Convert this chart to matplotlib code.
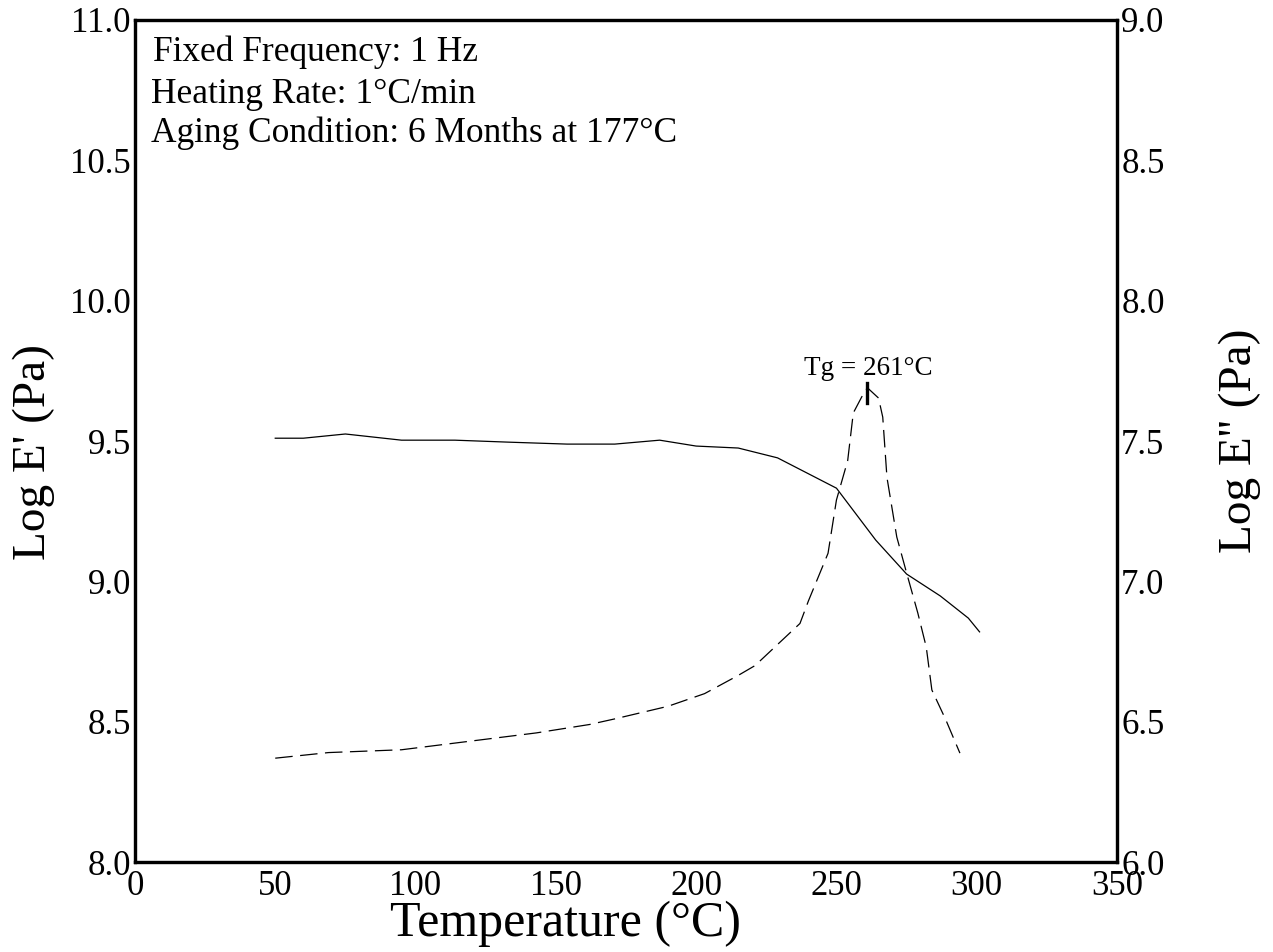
import matplotlib
matplotlib.use("Agg")
import matplotlib.pyplot as plt

plt.rcParams['font.family'] = ['Liberation Serif', 'DejaVu Serif']

# Storage modulus (solid line, left axis)
temp_storage = [50, 60, 75, 95, 114, 133, 154, 171, 187, 200, 215, 229, 250, 264, 275, 287, 297, 301]
log_storage = [9.51, 9.51, 9.525, 9.503, 9.503, 9.496, 9.489, 9.489, 9.503, 9.482, 9.475, 9.44,
               9.332, 9.147, 9.026, 8.948, 8.869, 8.82]

# Loss modulus (dashed line, right axis)
temp_loss = [50, 69, 95, 115, 143, 162, 171, 190, 203, 215, 221, 237, 240, 247, 250, 254, 256,
             259, 261, 265, 266.5, 268, 271.5, 275, 279, 282, 284, 289, 294]
log_loss = [6.37, 6.39, 6.40, 6.425, 6.46, 6.49, 6.51, 6.555, 6.60, 6.665, 6.70, 6.85, 6.93,
            7.10, 7.29, 7.43, 7.60, 7.657, 7.69, 7.653, 7.585, 7.37, 7.158, 7.03, 6.887,
            6.766, 6.613, 6.506, 6.388]

x_ticks = [0, 50, 100, 150, 200, 250, 300, 350]
left_ticks = [8.0, 8.5, 9.0, 9.5, 10.0, 10.5, 11.0]
right_ticks = [6.0, 6.5, 7.0, 7.5, 8.0, 8.5, 9.0]

tg_value = 261
tg_marker = [7.635, 7.706]

notes = ["Fixed Frequency: 1 Hz", "Heating Rate: 1\u00b0C/min", "Aging Condition: 6 Months at 177\u00b0C"]

fig = plt.figure(figsize=(12.73, 9.52), dpi=100)
ax = fig.add_axes([0.106, 0.0945, 0.7715, 0.8845])
ax2 = ax.twinx()

ax.plot(temp_storage, log_storage, color='black', lw=0.9)
ax2.plot(temp_loss, log_loss, color='black', lw=0.9, linestyle=(0, (14, 6)))
ax2.plot([tg_value, tg_value], tg_marker, color='black', lw=2.4)
ax2.text(tg_value + 0.5, 7.735, "Tg = %d\u00b0C" % tg_value, ha='center', va='baseline', fontsize=19.5)

ax.set_xlim(0, 350)
ax.set_ylim(8.0, 11.0)
ax2.set_ylim(6.0, 9.0)
ax.set_xticks(x_ticks)
ax.set_xticklabels([str(t) for t in x_ticks])
ax.set_yticks(left_ticks)
ax.set_yticklabels(["%.1f" % v for v in left_ticks])
ax2.set_yticks(right_ticks)
ax2.set_yticklabels(["%.1f" % v for v in right_ticks])

for a in (ax, ax2):
    a.tick_params(length=0, labelsize=25)
    for s in a.spines.values():
        s.set_linewidth(2.3)
ax.tick_params(axis='x', pad=6)
ax.tick_params(axis='y', pad=3)
ax2.tick_params(axis='y', pad=3)

ax.set_xlabel("Temperature (\u00b0C)", fontsize=36, labelpad=0)
ax.xaxis.set_label_coords(0.438, -0.046)
ax.set_ylabel("Log E' (Pa)", fontsize=34)
ax.yaxis.set_label_coords(-0.081, 0.487)
ax2.set_ylabel("Log E'' (Pa)", fontsize=34)
ax2.yaxis.set_label_coords(1.103, 0.50)

ypos = [0.962, 0.912, 0.866]
xpos = [0.018, 0.016, 0.016]
for t, xp, yp in zip(notes, xpos, ypos):
    ax.text(xp, yp, t, transform=ax.transAxes, fontsize=25.5, ha='left', va='center')

fig.savefig("out.png", dpi=100)
